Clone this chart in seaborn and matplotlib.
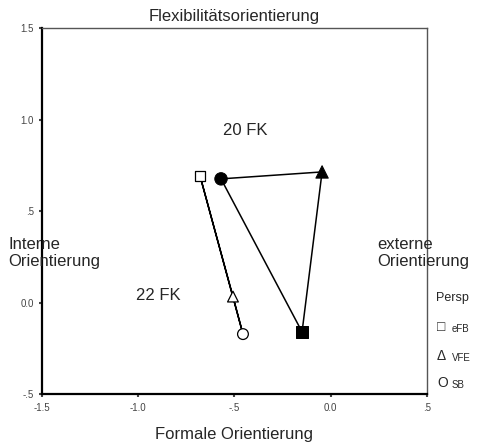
import pandas as pd
import seaborn as sns
import matplotlib.pyplot as plt

# coordinates (two groups, three perspectives each)
persp = ['eFB', 'VFE', 'SB']
x_20 = [-0.149, -0.045, -0.570]
y_20 = [-0.158, 0.716, 0.678]
x_22 = [-0.679, -0.508, -0.456]
y_22 = [0.694, 0.035, -0.170]
markers = {'eFB': 's', 'VFE': '^', 'SB': 'o'}

df20 = pd.DataFrame({'x': x_20, 'y': y_20, 'Persp': persp})
df22 = pd.DataFrame({'x': x_22, 'y': y_22, 'Persp': persp})

sns.set_style('white')
plt.rcParams['font.family'] = ['Liberation Sans', 'DejaVu Sans']

fig = plt.figure(figsize=(4.83, 4.44), dpi=100)
ax = fig.add_axes([0.087, 0.1115, 0.797, 0.8245])

# closed outlines of each group
for d in (df20, df22):
    closed = pd.concat([d, d.iloc[[0]]], ignore_index=True)
    sns.lineplot(data=closed, x='x', y='y', sort=False, color='black',
                 lw=1.1, ax=ax, legend=False, estimator=None)

# filled markers for 20 FK, open for 22 FK
sns.scatterplot(data=df20, x='x', y='y', style='Persp', markers=markers,
                color='black', edgecolor='black', s=80, ax=ax, legend=False, zorder=3)
sns.scatterplot(data=df22, x='x', y='y', style='Persp', markers=markers,
                color='white', edgecolor='black', linewidth=0.9, s=60, ax=ax,
                legend=False, zorder=3)

ax.set_xlim(-1.5, 0.5)
ax.set_ylim(-0.5, 1.5)
ax.set_xticks([-1.5, -1.0, -0.5, 0.0, 0.5])
ax.set_xticklabels(['-1.5', '-1.0', '-.5', '0.0', '.5'])
ax.set_yticks([-0.5, 0.0, 0.5, 1.0, 1.5])
ax.set_yticklabels(['-.5', '0.0', '.5', '1.0', '1.5'])
ax.tick_params(axis='both', labelsize=7, colors='#444444', length=2, width=1.5,
               direction='out', pad=4)
ax.tick_params(bottom=True, left=True)

for side in ('left', 'bottom'):
    ax.spines[side].set_color('black')
    ax.spines[side].set_linewidth(1.6)
for side in ('top', 'right'):
    ax.spines[side].set_color('#555555')
    ax.spines[side].set_linewidth(1.0)

ax.set_xlabel('Formale Orientierung', fontsize=12, labelpad=10)
ax.set_ylabel('')
ax.set_title('Flexibilitätsorientierung', fontsize=12, pad=5)

ax.text(-0.446, 0.945, '20 FK', fontsize=12, ha='center', va='center')
ax.text(-0.897, 0.04, '22 FK', fontsize=12, ha='center', va='center')
fig.text(8 / 483, 1 - 253 / 444, 'Interne\nOrientierung', fontsize=12,
         ha='left', va='center', linespacing=1.2)
fig.text(377 / 483, 1 - 253 / 444, 'externe\nOrientierung', fontsize=12,
         ha='left', va='center', linespacing=1.2)

# legend drawn as figure text
fig.text(436 / 483, 1 - 298 / 444, 'Persp', fontsize=9, ha='left', va='center')
leg_sym = ['\u25a1', '\u0394', 'O']
leg_y = [327, 356, 383]
for sym, lab, yy in zip(leg_sym, persp, leg_y):
    fig.text(437 / 483, 1 - yy / 444, sym, fontsize=10, ha='left', va='center')
    fig.text(452 / 483, 1 - (yy + 2) / 444, lab, fontsize=7, ha='left', va='center')

fig.savefig('out.png', dpi=100)
